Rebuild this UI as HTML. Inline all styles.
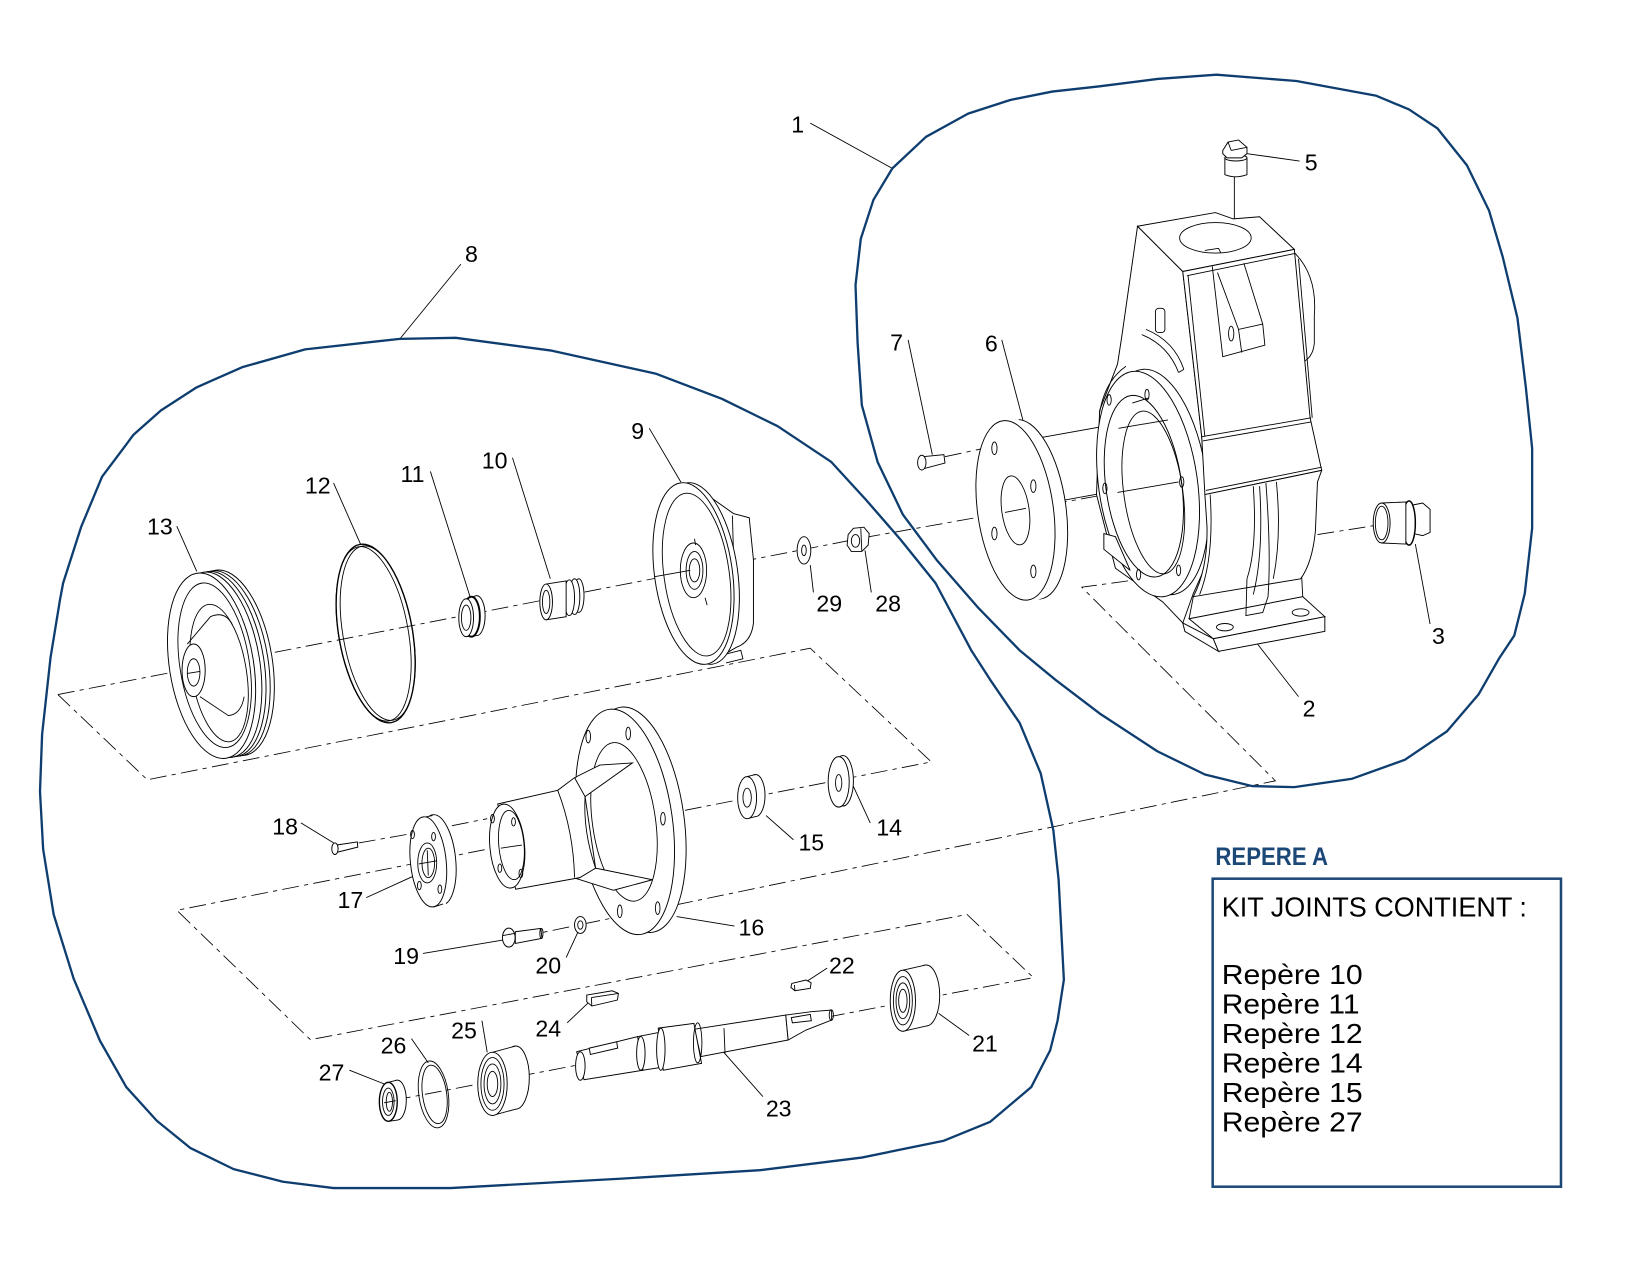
<!DOCTYPE html>
<html>
<head>
<meta charset="utf-8">
<style>
  html,body{margin:0;padding:0;background:#fff;}
  svg{display:block;}
  .p{fill:#fff;stroke:#000;stroke-width:0.9;}
  .l{fill:none;stroke:#000;stroke-width:0.85;}
  .w{fill:#fff;stroke:none;}
  .d{fill:none;stroke:#000;stroke-width:0.8;stroke-dasharray:16 5 4 5;}
  .b{fill:none;stroke:#0e3d6f;stroke-width:2.2;stroke-linejoin:round;}
  .t{font-family:"Liberation Sans",sans-serif;font-size:22px;fill:#000;text-anchor:middle;}
  .k{font-family:"Liberation Sans",sans-serif;font-size:26px;fill:#000;}
</style>
</head>
<body>
<svg width="1650" height="1275" viewBox="0 0 1568 1211.6" preserveAspectRatio="none" xmlns="http://www.w3.org/2000/svg">
<rect x="0" y="0" width="1568" height="1212" fill="#fff"/>

<!-- construction (dashed) lines -->
<polyline class="d" points="55,660 826,510 1045,471 1130,457"/>
<polyline class="d" points="1252,508 1309,499"/>
<polyline class="d" points="55,660 140,741 770,616 885,724 168,865 295,988 919,869 982,929 372,1046"/>
<polyline class="d" points="1072,552 1028,558 1212,742 516,886"/>
<polyline class="d" points="898,434 935,426"/>
<polyline class="d" points="341,801 392,792 463,778"/>
<line class="l" x1="988" y1="416" x2="1100" y2="396"/>
<line class="l" x1="1007" y1="476" x2="1118" y2="456"/>
<line class="l" x1="1173" y1="167" x2="1173" y2="208"/>

<!-- leaders -->
<g class="l">
<line x1="770" y1="117" x2="848" y2="160"/>
<line x1="1235" y1="153" x2="1185" y2="146"/>
<line x1="438" y1="251" x2="380" y2="322"/>
<line x1="863" y1="323" x2="886" y2="432"/>
<line x1="952" y1="323" x2="972" y2="399"/>
<line x1="617" y1="407" x2="647" y2="458"/>
<line x1="487" y1="435" x2="523" y2="550"/>
<line x1="409" y1="448" x2="447" y2="568"/>
<line x1="317" y1="459" x2="343" y2="518"/>
<line x1="168" y1="500" x2="187" y2="543"/>
<line x1="773" y1="563" x2="770" y2="537"/>
<line x1="828" y1="563" x2="822" y2="523"/>
<line x1="1359" y1="593" x2="1345" y2="517"/>
<line x1="1234" y1="662" x2="1195" y2="612"/>
<line x1="286" y1="782" x2="317" y2="801"/>
<line x1="754" y1="798" x2="728" y2="775"/>
<line x1="827" y1="782" x2="809" y2="743"/>
<line x1="348" y1="853" x2="392" y2="833"/>
<line x1="698" y1="880" x2="643" y2="871"/>
<line x1="402" y1="906" x2="480" y2="893"/>
<line x1="538" y1="910" x2="550" y2="884"/>
<line x1="786" y1="920" x2="766" y2="933"/>
<line x1="539" y1="972" x2="560" y2="952"/>
<line x1="921" y1="984" x2="892" y2="963"/>
<line x1="458" y1="970" x2="463" y2="1000"/>
<line x1="391" y1="987" x2="407" y2="1010"/>
<line x1="332" y1="1017" x2="365" y2="1030"/>
<line x1="725" y1="1042" x2="686" y2="998"/>
</g>

<!-- ===== Part 13 pulley ===== -->
<g transform="rotate(-9 205 632)">
  <ellipse class="p" cx="219" cy="632" rx="40" ry="89"/>
  <ellipse class="p" cx="215" cy="632" rx="40" ry="89"/>
  <ellipse class="p" cx="211" cy="632" rx="40" ry="89"/>
  <ellipse class="p" cx="207" cy="632" rx="40" ry="89"/>
  <ellipse class="p" cx="201" cy="632" rx="40" ry="89"/>
  <ellipse class="l" cx="204" cy="632" rx="33" ry="79"/>
  <ellipse class="l" cx="207" cy="640" rx="26" ry="66"/>
</g>
<path class="l" d="M178,612 L200,586 Q214,580 221,594"/>
<path class="l" d="M190,662 L217,680 Q229,679 232,662"/>
<ellipse class="p" cx="184" cy="637" rx="11" ry="25"/>
<ellipse class="l" cx="184" cy="639" rx="6" ry="13"/>
<line class="l" x1="178" y1="640" x2="190" y2="638"/>

<!-- ===== Part 12 O-ring ===== -->
<g transform="rotate(-10 357 602)">
  <ellipse class="l" cx="357" cy="602" rx="35" ry="86" style="stroke-width:1.3"/>
  <ellipse class="l" cx="359" cy="602" rx="33" ry="84"/>
  <ellipse class="l" cx="355" cy="602" rx="33" ry="84"/>
</g>

<!-- ===== Part 11 ===== -->
<ellipse class="p" cx="453" cy="585" rx="8" ry="19"/>
<polygon class="w" points="443,569 453,566 453,604 443,605"/>
<line class="l" x1="443" y1="569" x2="453" y2="566"/>
<line class="l" x1="443" y1="605" x2="453" y2="604"/>
<ellipse class="p" cx="448" cy="586" rx="8" ry="19" style="stroke-width:1.8"/>
<ellipse class="p" cx="443" cy="587" rx="7" ry="18"/>
<ellipse class="l" cx="443" cy="587" rx="4.5" ry="12"/>

<!-- ===== Part 10 ===== -->
<ellipse class="p" cx="550" cy="566" rx="5" ry="16"/>
<ellipse class="p" cx="546" cy="567" rx="5" ry="17"/>
<ellipse class="p" cx="541" cy="568" rx="5" ry="17"/>
<polygon class="p" points="519,555 538,552 538,586 519,589"/>
<ellipse class="p" cx="519" cy="572" rx="6" ry="17"/>
<ellipse class="l" cx="519" cy="572" rx="3.5" ry="11"/>

<!-- ===== Part 9 ===== -->
<path class="p" d="M666,466 L697,488 L712,492 L716,532 L716,592 Q714,610 700,615 L688,622 L672,630 Z"/>
<path class="l" d="M696,490 L699,597"/>
<path class="l" d="M688,622 L704,618 L706,626 L690,630"/>
<ellipse class="p" cx="665" cy="545" rx="36" ry="87" transform="rotate(-8 665 545)"/>
<ellipse class="p" cx="659" cy="545" rx="37" ry="87" transform="rotate(-8 659 545)"/>
<ellipse class="l" cx="662" cy="546" rx="31" ry="78" transform="rotate(-8 662 546)"/>
<ellipse class="l" cx="659" cy="542" rx="12.5" ry="26"/>
<ellipse class="l" cx="660" cy="542" rx="8" ry="18"/>
<ellipse class="l" cx="660" cy="542" rx="5" ry="11"/>
<line class="l" x1="622" y1="548" x2="656" y2="542"/>
<line class="l" x1="660" y1="512" x2="661" y2="518"/>
<line class="l" x1="670" y1="568" x2="672" y2="575"/>

<!-- ===== Part 29 washer ===== -->
<ellipse class="p" cx="764" cy="523" rx="6.5" ry="13"/>
<ellipse class="l" cx="764" cy="523" rx="2.2" ry="5"/>
<!-- ===== Part 28 nut ===== -->
<polygon class="p" points="806,508 811,502 821,501 826,507 825,518 819,524 809,524 805,518"/>
<ellipse class="l" cx="813" cy="514" rx="4" ry="6"/>
<line class="l" x1="818" y1="502" x2="819" y2="524"/>

<!-- ===== Part 7 bolt ===== -->
<polygon class="p" points="877,434 897,432 898,440 879,445"/>
<ellipse class="p" cx="876" cy="439.6" rx="4" ry="7"/>

<!-- ===== Part 6 flange ===== -->
<ellipse class="p" cx="977" cy="484" rx="36" ry="86" transform="rotate(-8 977 484)"/>
<polygon class="w" points="953,400 968,398 992,568 980,572"/>
<ellipse class="p" cx="965" cy="485" rx="36" ry="86" transform="rotate(-8 965 485)"/>
<ellipse class="l" cx="965" cy="485" rx="13" ry="33" transform="rotate(-8 965 485)"/>
<line class="l" x1="955" y1="487" x2="975" y2="483"/>
<ellipse class="l" cx="945" cy="426" rx="2.5" ry="6"/>
<ellipse class="l" cx="982" cy="462" rx="2.5" ry="6"/>
<ellipse class="l" cx="945" cy="507" rx="2.5" ry="6"/>
<ellipse class="l" cx="982" cy="543" rx="2.5" ry="6"/>

<!-- ===== Housing (part 2) ===== -->
<path class="l" d="M1230,240 Q1252,262 1249,300 L1249,326 Q1248,338 1240,343"/>
<polygon class="p" points="1081,215 1124,258 1142,415 1145,470 1147,535 1134,564 1124,592 1105,572 1060,540 1042,470 1045,390 1062,346 1066,320"/>
<path class="l" d="M1045,392 Q1050,362 1070,348"/>
<ellipse class="p" cx="1100" cy="458" rx="47" ry="108" transform="rotate(-8 1100 458)"/>
<ellipse class="p" cx="1091" cy="460" rx="47" ry="108" transform="rotate(-8 1091 460)"/>
<ellipse class="p" cx="1087" cy="462" rx="36" ry="87" transform="rotate(-8 1087 462)"/>
<ellipse class="l" cx="1096" cy="468" rx="28" ry="78" transform="rotate(-8 1096 468)"/>
<line class="l" x1="1076" y1="383" x2="1092" y2="378"/>
<line class="l" x1="1063" y1="407" x2="1110" y2="399"/>
<line class="l" x1="1062" y1="468" x2="1120" y2="458"/>
<ellipse class="l" cx="1054" cy="380" rx="2" ry="5"/>
<ellipse class="l" cx="1090" cy="375" rx="2" ry="5"/>
<ellipse class="l" cx="1123" cy="458" rx="2" ry="5"/>
<ellipse class="l" cx="1120" cy="542" rx="2" ry="5"/>
<ellipse class="l" cx="1082" cy="546" rx="2" ry="5"/>
<ellipse class="l" cx="1050" cy="464" rx="2" ry="5"/>
<polygon class="p" points="1049,507 1060,510 1074,542 1049,522"/>
<!-- top face -->
<polygon class="p" points="1081,215 1155,202 1172,208 1197,206 1230,237 1124,258"/>
<ellipse class="l" cx="1155" cy="226" rx="34" ry="14.5"/>
<path class="l" d="M1145,238 L1158,236 L1160,240"/>
<!-- front face -->
<polygon class="p" points="1124,258 1230,237 1245,397 1256,447 1145,470 1142,415"/>
<line class="l" x1="1128" y1="262" x2="1230" y2="241"/>
<line class="l" x1="1129" y1="262" x2="1145" y2="415"/>
<line class="l" x1="1234" y1="246" x2="1247" y2="397"/>
<line class="l" x1="1142" y1="415" x2="1246" y2="397"/>
<line class="l" x1="1143" y1="419" x2="1246" y2="401"/>
<line class="l" x1="1146" y1="466" x2="1256" y2="444"/>
<polyline class="l" points="1152,253 1162,339 1202,328 1200,308 1182,250"/>
<polyline class="l" points="1157,259 1177,313 1200,308"/>
<line class="l" x1="1177" y1="313" x2="1180" y2="335"/>
<ellipse class="l" cx="1170" cy="317" rx="2.5" ry="7"/>
<!-- side features -->
<rect class="l" x="1098" y="293" width="9" height="23" rx="3"/>
<path class="l" d="M1085,318 Q1110,328 1120,354 M1089,313 Q1116,324 1125,351 M1120,354 L1125,351"/>
<!-- lower volute -->
<path class="p" d="M1145,470 L1256,447 L1252,458 L1250,505 Q1247,535 1236,550 L1134,567 Q1148,540 1147,500 Z"/>
<path class="l" d="M1191,462 Q1195,520 1185,550"/>
<path class="l" d="M1197,462 Q1201,525 1191,565"/>
<path class="l" d="M1203,459 Q1208,525 1205,567"/>
<path class="l" d="M1213,458 Q1218,510 1210,550"/>
<path class="l" d="M1150,470 Q1154,530 1140,565"/>
<!-- foot -->
<polygon class="p" points="1124,592 1153,607 1158,619 1126,600"/>
<polygon class="p" points="1130,588 1238,567 1259,586 1153,607"/>
<polygon class="p" points="1153,607 1259,586 1259,600 1158,619"/>
<line class="l" x1="1134" y1="567" x2="1130" y2="588"/>
<line class="l" x1="1237" y1="548" x2="1238" y2="567"/>
<path class="l" d="M1185,550 L1184,585 L1200,582 L1205,567"/>
<ellipse class="l" cx="1164" cy="596" rx="8" ry="3.5"/>
<ellipse class="l" cx="1236" cy="582" rx="8" ry="3.5"/>

<!-- ===== Part 5 ===== -->
<path class="p" d="M1164,150 L1164,166 Q1174,170 1185,166 L1185,150 Z"/>
<ellipse class="p" cx="1174.5" cy="150" rx="10.5" ry="3"/>
<polygon class="p" points="1162,143 1167,135 1177,133 1185,140 1185,146 1180,150 1166,150 1162,146"/>
<line class="l" x1="1167" y1="135" x2="1170" y2="143"/>
<line class="l" x1="1170" y1="143" x2="1185" y2="140"/>

<!-- ===== Part 3 ===== -->
<polygon class="p" points="1342,480 1352,478 1359,484 1359,506 1352,509 1343,507"/>
<ellipse class="p" cx="1339" cy="497" rx="6" ry="21" style="stroke-width:1.4"/>
<polygon class="p" points="1313,478 1336,477 1336,517 1313,516"/>
<ellipse class="p" cx="1313" cy="497" rx="8" ry="19"/>
<ellipse class="l" cx="1313" cy="497" rx="6" ry="16"/>

<!-- ===== Part 16 bearing housing ===== -->
<ellipse class="p" cx="605" cy="779" rx="45" ry="108" transform="rotate(-8 605 779)"/>
<ellipse class="p" cx="594" cy="781" rx="45" ry="108" transform="rotate(-8 594 781)"/>
<ellipse class="l" cx="593" cy="781" rx="30" ry="76" transform="rotate(-8 593 781)"/>
<ellipse class="l" cx="559" cy="700" rx="2.2" ry="6"/>
<ellipse class="l" cx="597" cy="697" rx="2.2" ry="6"/>
<ellipse class="l" cx="630" cy="778" rx="2.2" ry="6"/>
<ellipse class="l" cx="625" cy="863" rx="2.2" ry="6"/>
<ellipse class="l" cx="589" cy="866" rx="2.2" ry="6"/>
<polygon class="p" points="535,749 548,738 570,727 601,725 556,757"/>
<polygon class="p" points="545,834 566,825 620,836 583,846"/>
<polygon class="p" points="473,764 530,751 546,739 556,757 566,825 551,834 490,845"/>
<path class="l" d="M530,751 Q545,790 546,834"/>
<path class="l" d="M556,757 Q554,790 566,825"/>
<ellipse class="p" cx="482" cy="804" rx="16.5" ry="40" transform="rotate(-5 482 804)"/>
<ellipse class="l" cx="486" cy="803" rx="12" ry="33" transform="rotate(-5 486 803)"/>
<line class="l" x1="476" y1="806" x2="496" y2="803"/>
<ellipse class="l" cx="468" cy="778" rx="1.8" ry="4"/>
<ellipse class="l" cx="488" cy="781" rx="1.8" ry="4"/>
<ellipse class="l" cx="475" cy="825" rx="1.8" ry="4"/>
<ellipse class="l" cx="495" cy="830" rx="1.8" ry="4"/>

<!-- ===== Part 17 ===== -->
<ellipse class="p" cx="416" cy="817" rx="17" ry="43" transform="rotate(-6 416 817)"/>
<polygon class="w" points="400,777 410,775 424,860 412,862"/>
<line class="l" x1="401" y1="777" x2="411" y2="775"/>
<line class="l" x1="412" y1="862" x2="421" y2="859"/>
<ellipse class="p" cx="407" cy="819" rx="17" ry="43" transform="rotate(-6 407 819)"/>
<ellipse class="l" cx="406" cy="820" rx="9" ry="19"/>
<ellipse class="l" cx="407" cy="820" rx="6" ry="14"/>
<line class="l" x1="398" y1="821" x2="415" y2="818"/>
<line class="l" x1="406" y1="808" x2="407" y2="832"/>
<ellipse class="l" cx="392" cy="793" rx="1.8" ry="4"/>
<ellipse class="l" cx="412" cy="795" rx="1.8" ry="4"/>
<ellipse class="l" cx="398.5" cy="841.5" rx="1.8" ry="4"/>
<ellipse class="l" cx="418" cy="845" rx="1.8" ry="4"/>

<!-- ===== Part 18 ===== -->
<polygon class="p" points="320,803 339.6,800 340,805 320,810"/>
<ellipse class="p" cx="318.3" cy="806.5" rx="3" ry="5.5"/>

<!-- ===== Part 15 ===== -->
<ellipse class="p" cx="718" cy="756" rx="9" ry="20"/>
<polygon class="w" points="710,738 718,736 718,776 710,778"/>
<line class="l" x1="710" y1="738" x2="718" y2="736"/>
<line class="l" x1="710" y1="778" x2="718" y2="776"/>
<ellipse class="p" cx="710" cy="758" rx="9" ry="20"/>
<ellipse class="l" cx="710" cy="758" rx="4" ry="9"/>

<!-- ===== Part 14 ===== -->
<ellipse class="p" cx="801" cy="742" rx="10" ry="24"/>
<ellipse class="p" cx="797" cy="743" rx="10" ry="24"/>
<ellipse class="l" cx="797" cy="744" rx="3" ry="8"/>

<!-- ===== Part 19 ===== -->
<polygon class="p" points="489.7,885.4 514,882.2 515,891.7 489.7,896.5"/>
<ellipse class="l" cx="514.5" cy="887" rx="1.5" ry="4.7"/>
<ellipse class="p" cx="483.5" cy="891" rx="6" ry="9"/>
<line class="l" x1="478" y1="889" x2="489" y2="887"/>
<!-- ===== Part 20 ===== -->
<ellipse class="p" cx="551.5" cy="879" rx="5.5" ry="8"/>
<ellipse class="l" cx="551.5" cy="879" rx="2.5" ry="4"/>
<!-- ===== Part 22 ===== -->
<polygon class="p" points="752.5,934.5 766,931.3 770.8,933.9 770,939.2 755.4,941.5 751.6,938.3"/>
<line class="l" x1="755.4" y1="941.5" x2="755" y2="936"/>
<!-- ===== Part 24 ===== -->
<polygon class="p" points="557.6,945.6 581.8,941.5 587.7,944 586.7,950.3 562.4,956 557.6,952"/>
<line class="l" x1="562.4" y1="956" x2="562" y2="948"/>
<line class="l" x1="562" y1="948" x2="587.7" y2="944"/>

<!-- ===== Part 21 bearing ===== -->
<ellipse class="p" cx="880" cy="946" rx="13" ry="29"/>
<polygon class="w" points="858,922 880,917 880,975 858,980"/>
<line class="l" x1="858" y1="922" x2="880" y2="917"/>
<line class="l" x1="858" y1="980" x2="880" y2="975"/>
<ellipse class="p" cx="858" cy="951" rx="12" ry="29"/>
<ellipse class="l" cx="858" cy="951" rx="9" ry="23"/>
<ellipse class="l" cx="858" cy="951" rx="6.5" ry="17"/>
<ellipse class="l" cx="858" cy="951" rx="4" ry="11"/>

<!-- ===== Part 23 shaft ===== -->
<polygon class="p" points="548,999.4 606,985 611,1017 555,1026"/>
<ellipse class="p" cx="551.5" cy="1013" rx="4.5" ry="13.5"/>
<polygon class="p" points="560,996 586,990 587,996 561,1002"/>
<polygon class="p" points="606,985 627,981 630,1014 611,1017"/>
<ellipse class="p" cx="609" cy="1001" rx="4" ry="16"/>
<polygon class="p" points="660,978 746.7,964.6 749,988.3 666,1004"/>
<polygon class="p" points="746.7,964.6 771,961.4 790.3,959.8 790.3,969.3 766,978.8 749,988.3"/>
<polygon class="p" points="752,967 770,964 771,970 753,972"/>
<ellipse class="l" cx="790" cy="964.6" rx="2" ry="5"/>
<polygon class="p" points="625.5,977 659.4,972.5 666.7,1010.5 630.3,1017"/>
<ellipse class="p" cx="628" cy="997" rx="4" ry="20"/>
<ellipse class="l" cx="663" cy="991" rx="4" ry="19"/>
<line class="l" x1="688" y1="977" x2="689" y2="1001"/>

<!-- ===== Part 25 bearing ===== -->
<ellipse class="p" cx="490" cy="1024" rx="13" ry="30"/>
<polygon class="w" points="468,1000 490,994 490,1054 468,1060"/>
<line class="l" x1="468" y1="1000" x2="490" y2="994"/>
<line class="l" x1="468" y1="1060" x2="490" y2="1054"/>
<ellipse class="p" cx="468" cy="1030" rx="14" ry="30"/>
<ellipse class="l" cx="468" cy="1030" rx="11" ry="25"/>
<ellipse class="l" cx="468" cy="1030" rx="8" ry="19"/>
<ellipse class="l" cx="468" cy="1030" rx="5" ry="12"/>

<!-- ===== Part 26 ===== -->
<ellipse class="l" cx="412" cy="1040" rx="14" ry="32" transform="rotate(-8 412 1040)"/>
<ellipse class="l" cx="413" cy="1040" rx="11.5" ry="28" transform="rotate(-8 413 1040)"/>

<!-- ===== Part 27 ===== -->
<ellipse class="p" cx="377.6" cy="1045.4" rx="8.5" ry="19"/>
<polygon class="w" points="369,1028.5 377.6,1026.4 377.6,1064.4 369,1065.7"/>
<line class="l" x1="369" y1="1028.5" x2="377.6" y2="1026.4"/>
<line class="l" x1="369" y1="1065.7" x2="377.6" y2="1064.4"/>
<ellipse class="p" cx="369" cy="1047" rx="8.5" ry="18.5" style="stroke-width:1.3"/>
<ellipse class="l" cx="369" cy="1047" rx="5.5" ry="13"/>
<ellipse class="l" cx="370" cy="1047" rx="3" ry="9"/>
<line class="l" x1="365" y1="1048" x2="376" y2="1046"/>

<!-- ===== blue outlines ===== -->
<polygon class="b" points="848,160 880,130 920,108 960,95 1000,87 1045,82 1100,75 1156,71 1232,77 1308,91 1339,104 1366,122 1394,157 1415,200 1428,244 1442,302 1450,368 1456,426 1456,502 1449,564 1439,604 1425,625 1405,660 1375,695 1335,722 1285,740 1230,748 1190,747 1145,736 1100,714 1045,678 1003,646 969,618 930,578 890,532 858,489 834,439 819,385 815,326 813,271 818,227 830,190"/>
<polygon class="b" points="380,322 433,321 523,333 623,355 686,379 739,405 790,439 823,475 856,513 889,554 923,618 941,646 969,687 989,735 1001,789 1006,836 1011,931 1005,970 998,998 980,1033 941,1066 897,1084 819,1100 722,1112 591,1120 428,1129 317,1129 269,1123 222,1111 181,1091 149,1065 120,1033 95,989 70,930 51,869 41,807 38,752 40,698 48,625 57,570 60,554 77,501 97,453 127,413 153,390 187,368 230,349 290,332"/>

<!-- ===== labels ===== -->
<g class="t">
<text x="758" y="126">1</text>
<text x="1246" y="162">5</text>
<text x="448" y="249">8</text>
<text x="852" y="333">7</text>
<text x="942" y="334">6</text>
<text x="606" y="417">9</text>
<text x="470" y="445">10</text>
<text x="392" y="458">11</text>
<text x="302" y="469">12</text>
<text x="152" y="508">13</text>
<text x="788" y="581">29</text>
<text x="844" y="581">28</text>
<text x="1367" y="612">3</text>
<text x="1244" y="681">2</text>
<text x="271" y="793">18</text>
<text x="771" y="808">15</text>
<text x="845" y="794">14</text>
<text x="333" y="863">17</text>
<text x="714" y="889">16</text>
<text x="386" y="916">19</text>
<text x="521" y="925">20</text>
<text x="800" y="925">22</text>
<text x="521" y="985">24</text>
<text x="936" y="999">21</text>
<text x="441" y="987">25</text>
<text x="374" y="1001">26</text>
<text x="315" y="1027">27</text>
<text x="740" y="1061">23</text>
</g>

<!-- ===== REPERE A box ===== -->
<text x="1155" y="822" style="font-family:'Liberation Sans',sans-serif;font-size:24px;font-weight:bold;fill:#1c4878;" textLength="107" lengthAdjust="spacingAndGlyphs">REPERE A</text>
<rect x="1152.4" y="835" width="331" height="292.7" fill="none" stroke="#1c4878" stroke-width="2.4"/>
<text class="k" x="1161" y="871" textLength="290" lengthAdjust="spacingAndGlyphs">KIT JOINTS CONTIENT :</text>
<text class="k" x="1161" y="935" textLength="134" lengthAdjust="spacingAndGlyphs">Repère 10</text>
<text class="k" x="1161" y="963" textLength="131" lengthAdjust="spacingAndGlyphs">Repère 11</text>
<text class="k" x="1161" y="991" textLength="134" lengthAdjust="spacingAndGlyphs">Repère 12</text>
<text class="k" x="1161" y="1019" textLength="134" lengthAdjust="spacingAndGlyphs">Repère 14</text>
<text class="k" x="1161" y="1047" textLength="134" lengthAdjust="spacingAndGlyphs">Repère 15</text>
<text class="k" x="1161" y="1075" textLength="134" lengthAdjust="spacingAndGlyphs">Repère 27</text>
</svg>
</body>
</html>
